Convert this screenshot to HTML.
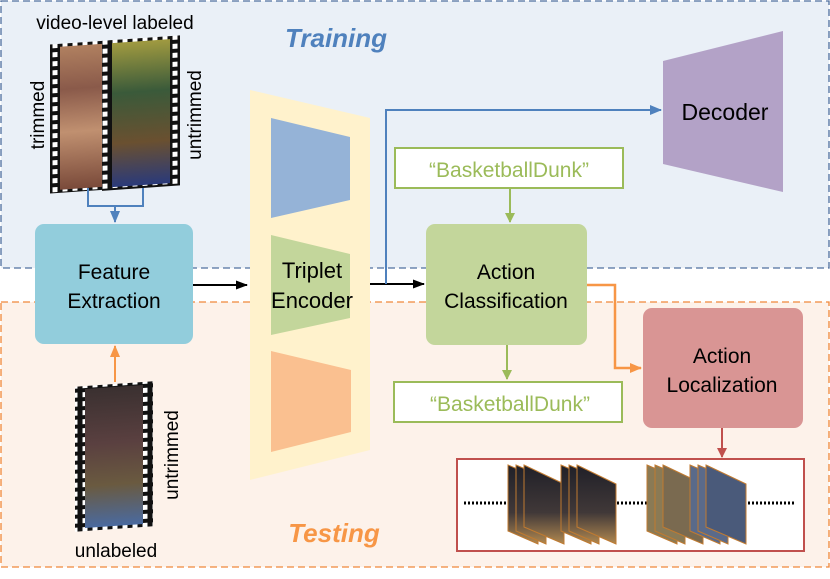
<!DOCTYPE html>
<html><head><meta charset="utf-8"><style>
html,body{margin:0;padding:0;background:#fff;}
svg{display:block;font-family:"Liberation Sans",sans-serif;}
</style></head><body>
<svg width="830" height="579" viewBox="0 0 830 579" xmlns="http://www.w3.org/2000/svg">
<defs>
<marker id="ab" markerWidth="12" markerHeight="10" refX="11" refY="5" orient="auto" markerUnits="userSpaceOnUse"><path d="M0,0 L12,5 L0,10 z" fill="#4f81bd"/></marker>
<marker id="ak" markerWidth="12" markerHeight="9" refX="11" refY="4.5" orient="auto" markerUnits="userSpaceOnUse"><path d="M0,0 L12,4.5 L0,9 z" fill="#000"/></marker>
<marker id="ag" markerWidth="10" markerHeight="10" refX="9" refY="5" orient="auto" markerUnits="userSpaceOnUse"><path d="M0,0 L10,5 L0,10 z" fill="#9bbb59"/></marker>
<marker id="ao" markerWidth="12" markerHeight="10" refX="11" refY="5" orient="auto" markerUnits="userSpaceOnUse"><path d="M0,0 L12,5 L0,10 z" fill="#f79646"/></marker>
<marker id="ar" markerWidth="10" markerHeight="10" refX="9" refY="5" orient="auto" markerUnits="userSpaceOnUse"><path d="M0,0 L10,5 L0,10 z" fill="#c0504d"/></marker>
<linearGradient id="g1" x1="0" y1="0" x2="0" y2="1"><stop offset="0" stop-color="#b08060"/><stop offset=".3" stop-color="#8a5a4a"/><stop offset=".6" stop-color="#c09070"/><stop offset="1" stop-color="#7a4a3a"/></linearGradient>
<linearGradient id="g2" x1="0" y1="0" x2="0" y2="1"><stop offset="0" stop-color="#a09a40"/><stop offset=".35" stop-color="#3a5a3a"/><stop offset=".7" stop-color="#6a5030"/><stop offset="1" stop-color="#2a3a7a"/></linearGradient>
<linearGradient id="g3" x1="0" y1="0" x2="0" y2="1"><stop offset="0" stop-color="#3a3030"/><stop offset=".4" stop-color="#5a4040"/><stop offset=".7" stop-color="#6a5a40"/><stop offset="1" stop-color="#4a6aa0"/></linearGradient>
<linearGradient id="g4" x1="0" y1="0" x2="0" y2="1"><stop offset="0" stop-color="#202028"/><stop offset=".6" stop-color="#403838"/><stop offset="1" stop-color="#b08850"/></linearGradient>
<pattern id="holes" width="10" height="9" patternUnits="userSpaceOnUse"><rect width="10" height="9" fill="#111"/><rect x="2.5" y="2" width="5" height="5" fill="#fff"/></pattern>
</defs>
<rect x="1" y="1" width="828" height="267" fill="#eaf0f7" stroke="#4f6f9f" stroke-width="1.3" stroke-dasharray="7,4"/>
<rect x="1" y="302" width="828" height="265" fill="#fdf2ea" stroke="#f0883a" stroke-width="1.3" stroke-dasharray="7,4"/>
<text x="336" y="47" font-size="26" font-weight="bold" font-style="italic" fill="#4f81bd" text-anchor="middle">Training</text>
<text x="334" y="542" font-size="26" font-weight="bold" font-style="italic" fill="#f79646" text-anchor="middle">Testing</text>
<text x="115" y="29" font-size="19" text-anchor="middle">video-level labeled</text>
<g transform="skewY(-4)">
<rect x="50" y="48" width="76" height="149" fill="url(#holes)"/>
<rect x="60" y="51" width="56" height="143" fill="url(#g1)"/>
</g>
<g transform="skewY(-4)">
<rect x="102" y="48" width="78" height="150" fill="url(#holes)"/>
<rect x="112" y="51" width="58" height="144" fill="url(#g2)"/>
</g>
<text transform="translate(44,115) rotate(-90)" font-size="19" text-anchor="middle">trimmed</text>
<text transform="translate(201,115) rotate(-90)" font-size="19" text-anchor="middle">untrimmed</text>
<g transform="skewY(-4)">
<rect x="75" y="392" width="78" height="145" fill="url(#holes)"/>
<rect x="85" y="395" width="58" height="139" fill="url(#g3)"/>
</g>
<text transform="translate(178,455) rotate(-90)" font-size="19" text-anchor="middle">untrimmed</text>
<text x="116" y="557" font-size="19" text-anchor="middle">unlabeled</text>
<path d="M88,188 V206 H143 V188 M115,206 V222" fill="none" stroke="#4f81bd" stroke-width="2" marker-end="url(#ab)"/>
<path d="M115,382 V346" fill="none" stroke="#f79646" stroke-width="2" marker-end="url(#ao)"/>
<rect x="35" y="224" width="158" height="120" rx="9" fill="#92cddc"/>
<text x="114" y="279" font-size="21" text-anchor="middle">Feature</text>
<text x="114" y="308" font-size="21" text-anchor="middle">Extraction</text>
<path d="M250,90 L370,118 L370,450 L250,480 Z" fill="#fff2cc"/>
<path d="M271,118 L350,137 L350,200 L271,218 Z" fill="#95b3d7"/>
<path d="M271,235 L350,254 L350,318 L271,335 Z" fill="#c3d69b"/>
<path d="M271,351 L351,370 L351,432 L271,452 Z" fill="#fac090"/>
<text x="312" y="278" font-size="22" text-anchor="middle">Triplet</text>
<text x="312" y="308" font-size="22" text-anchor="middle">Encoder</text>
<path d="M193,285 H247" stroke="#000" stroke-width="2" marker-end="url(#ak)"/>
<path d="M370,284 H424" stroke="#000" stroke-width="2" marker-end="url(#ak)"/>
<path d="M386,284 V110 H661" fill="none" stroke="#4f81bd" stroke-width="2" marker-end="url(#ab)"/>
<path d="M663,61 L783,31 L783,192 L663,164 Z" fill="#b3a2c7"/>
<text x="725" y="120" font-size="23" text-anchor="middle">Decoder</text>
<rect x="395" y="148" width="228" height="40" fill="#fff" stroke="#9bbb59" stroke-width="2"/>
<text x="509" y="177" font-size="21" fill="#9bbb59" text-anchor="middle">“BasketballDunk”</text>
<path d="M510,188 V222" stroke="#9bbb59" stroke-width="2" marker-end="url(#ag)"/>
<rect x="426" y="224" width="161" height="121" rx="9" fill="#c3d69b"/>
<text x="506" y="279" font-size="21" text-anchor="middle">Action</text>
<text x="506" y="308" font-size="21" text-anchor="middle">Classification</text>
<path d="M507,345 V379" stroke="#9bbb59" stroke-width="2" marker-end="url(#ag)"/>
<rect x="394" y="382" width="228" height="40" fill="#fff" stroke="#9bbb59" stroke-width="2"/>
<text x="510" y="411" font-size="21" fill="#9bbb59" text-anchor="middle">“BasketballDunk”</text>
<path d="M587,285 H615 V368 H641" fill="none" stroke="#f79646" stroke-width="2.5" marker-end="url(#ao)"/>
<rect x="643" y="308" width="160" height="120" rx="9" fill="#d99594"/>
<text x="722" y="363" font-size="21" text-anchor="middle">Action</text>
<text x="722" y="392" font-size="21" text-anchor="middle">Localization</text>
<path d="M722,428 V457" stroke="#c0504d" stroke-width="2" marker-end="url(#ar)"/>
<rect x="457" y="459" width="347" height="92" fill="#fff" stroke="#c0504d" stroke-width="2"/>
<g stroke="#000" stroke-width="3" stroke-dasharray="2,2">
<path d="M464,503 H507"/><path d="M617,503 H648"/><path d="M748,503 H796"/>
</g>
<g stroke="#c07a30" stroke-width="1">
<path d="M508,465 L538,478 L538,544 L508,531 Z" fill="url(#g4)"/>
<path d="M516,465 L546,478 L546,544 L516,531 Z" fill="url(#g4)"/>
<path d="M524,465 L564,484 L564,544 L524,527 Z" fill="url(#g4)"/>
<path d="M561,465 L591,478 L591,544 L561,531 Z" fill="url(#g4)"/>
<path d="M569,465 L599,478 L599,544 L569,531 Z" fill="url(#g4)"/>
<path d="M577,465 L616,484 L616,544 L577,527 Z" fill="url(#g4)"/>
<path d="M647,465 L677,478 L677,544 L647,531 Z" fill="#8a7a55"/>
<path d="M655,465 L685,478 L685,544 L655,531 Z" fill="#8a7a55"/>
<path d="M663,465 L703,484 L703,544 L663,527 Z" fill="#7a6a50"/>
<path d="M690,465 L720,478 L720,544 L690,531 Z" fill="#5a6a8a"/>
<path d="M698,465 L728,478 L728,544 L698,531 Z" fill="#5a6a8a"/>
<path d="M706,465 L746,484 L746,544 L706,527 Z" fill="#4a5a7a"/>
</g>
</svg>
</body></html>
